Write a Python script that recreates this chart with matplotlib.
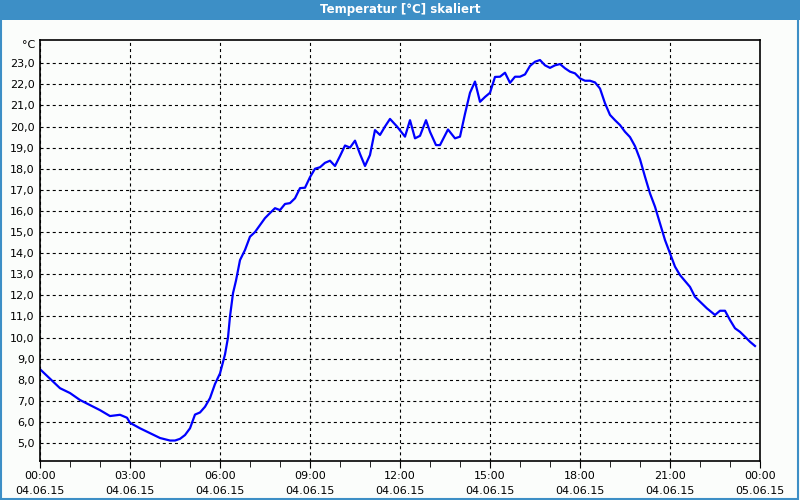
import numpy as np
import pandas as pd
import matplotlib
matplotlib.use("Agg")
import matplotlib.pyplot as plt
import matplotlib.dates as mdates
from matplotlib.patches import Rectangle

day = "2015-06-04"
times = ["00:00", "00:20", "00:40", "01:00", "01:20", "01:40", "02:00", "02:20", "02:40", "02:54",
         "03:00", "03:20", "03:40", "04:00", "04:20", "04:30", "04:40", "04:50", "05:00", "05:10",
         "05:20", "05:30", "05:40", "05:50", "06:00", "06:10", "06:16", "06:20", "06:26", "06:32",
         "06:40", "06:50", "07:00", "07:10", "07:20", "07:30", "07:40", "07:50", "08:00", "08:10",
         "08:20", "08:30", "08:40", "08:50", "09:00", "09:10", "09:20", "09:30", "09:40", "09:50",
         "10:00", "10:10", "10:20", "10:30", "10:40", "10:50", "11:00", "11:10", "11:20", "11:30",
         "11:40", "11:54", "12:10", "12:20", "12:30", "12:40", "12:52", "13:00", "13:12", "13:20",
         "13:36", "13:50", "14:00", "14:10", "14:20", "14:30", "14:40", "14:50", "15:00", "15:10",
         "15:20", "15:30", "15:40", "15:50", "16:00", "16:10", "16:20", "16:30", "16:40", "16:50",
         "17:00", "17:10", "17:20", "17:30", "17:40", "17:50", "18:00", "18:10", "18:20", "18:30",
         "18:40", "18:50", "19:00", "19:10", "19:20", "19:30", "19:40", "19:50", "20:00", "20:10",
         "20:20", "20:30", "20:40", "20:50", "21:00", "21:10", "21:20", "21:40", "21:50", "22:00",
         "22:14", "22:30", "22:40", "22:50", "23:00", "23:10", "23:20", "23:30", "23:40", "23:50"]
temps = [8.5, 8.05, 7.6, 7.37, 7.04, 6.8, 6.56, 6.28, 6.34, 6.2,
         5.96, 5.7, 5.47, 5.24, 5.12, 5.12, 5.2, 5.38, 5.7, 6.35,
         6.45, 6.72, 7.13, 7.8, 8.3, 9.2, 10.0, 11.0, 12.1, 12.7,
         13.67, 14.15, 14.78, 15.0, 15.33, 15.66, 15.9, 16.13, 16.04, 16.33,
         16.37, 16.6, 17.08, 17.1, 17.6, 18.0, 18.07, 18.28, 18.38, 18.13,
         18.6, 19.1, 19.0, 19.33, 18.7, 18.13, 18.65, 19.83, 19.6, 20.0,
         20.36, 20.0, 19.52, 20.3, 19.44, 19.56, 20.3, 19.75, 19.12, 19.12,
         19.86, 19.44, 19.52, 20.6, 21.6, 22.13, 21.17, 21.4, 21.6, 22.35,
         22.36, 22.55, 22.07, 22.36, 22.36, 22.47, 22.87, 23.07, 23.15, 22.9,
         22.78, 22.9, 22.96, 22.76, 22.6, 22.52, 22.28, 22.17, 22.17, 22.09,
         21.8, 21.1, 20.55, 20.3, 20.07, 19.75, 19.5, 19.07, 18.45, 17.62,
         16.83, 16.2, 15.41, 14.62, 13.99, 13.36, 12.96, 12.4, 11.93, 11.7,
         11.38, 11.07, 11.27, 11.27, 10.83, 10.44, 10.27, 10.04, 9.8, 9.6]
ytick_vals = np.arange(5, 24, 1)

plt.rcParams["font.family"] = ["DejaVu Sans"]
plt.rcParams["lines.scale_dashes"] = False

t = pd.to_datetime([day + " " + s for s in times])
start = pd.Timestamp(day)
end = start + pd.Timedelta(hours=24)

fig = plt.figure(figsize=(8, 5), dpi=100, facecolor="#fbfdfb")
# title bar and frame
fig.patches.append(Rectangle((0, 0.96), 1, 0.04, transform=fig.transFigure,
                             facecolor="#3d8fc6", edgecolor="none"))
fig.patches.append(Rectangle((0.001, 0.002), 0.997, 0.996, transform=fig.transFigure,
                             facecolor="none", edgecolor="#3d8fc6", lw=1.5))
fig.text(0.5, 0.981, "Temperatur [°C] skaliert", color="white", fontsize=8.5,
         fontweight="bold", ha="center", va="center")

ax = fig.add_axes([0.05, 0.078, 0.9, 0.842])
ax.set_facecolor("#fbfdfb")
ax.plot(t, temps, color="#0000ff", lw=1.6)

ax.set_xlim(start, end)
ax.set_ylim(4.15, 24.1)
ax.set_yticks(ytick_vals)
ax.set_yticklabels([f"{v:.1f}".replace(".", ",") for v in ytick_vals], fontsize=8)
ax.tick_params(axis="y", length=0, pad=4)

ax.xaxis.set_major_locator(mdates.HourLocator(byhour=range(0, 24, 3)))
ax.xaxis.set_minor_locator(mdates.HourLocator())
ax.xaxis.set_major_formatter(mdates.DateFormatter("%H:%M\n%d.%m.%y"))
ax.tick_params(axis="x", which="major", length=5, labelsize=8, pad=2)
ax.tick_params(axis="x", which="minor", length=4)
for lab in ax.get_xticklabels():
    lab.set_linespacing(1.65)

ax.grid(True, which="major", color="black", linestyle=(0, (2.2, 2.2)), lw=0.8)
for s in ax.spines.values():
    s.set_linewidth(1.2)

ax.text(-0.006, 0.988, "°C", transform=ax.transAxes, ha="right", va="center", fontsize=8)

fig.savefig("out.png", dpi=100, facecolor=fig.get_facecolor())
